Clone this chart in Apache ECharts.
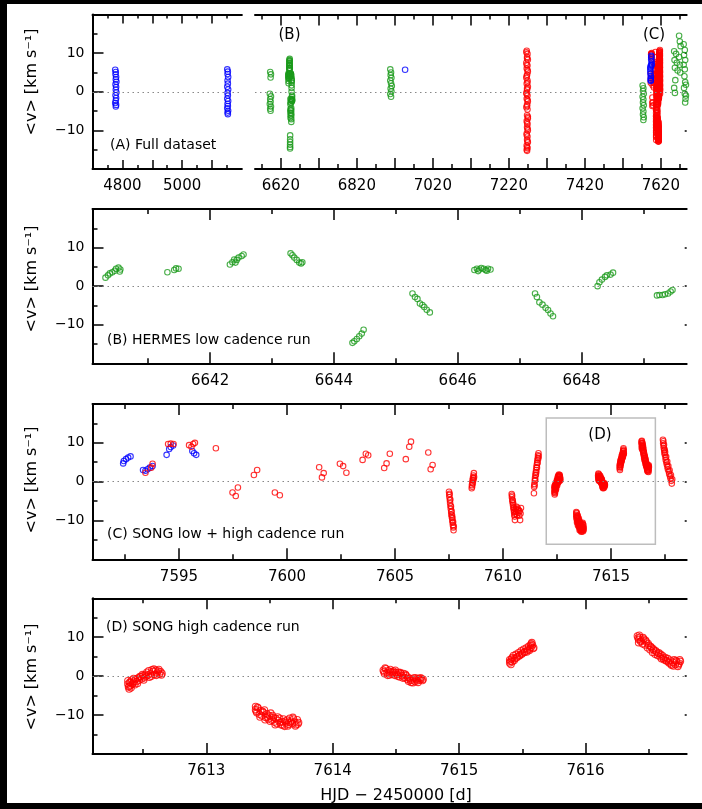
<!DOCTYPE html>
<html><head><meta charset="utf-8">
<script src="https://cdn.jsdelivr.net/npm/echarts@6/dist/echarts.min.js"></script>
<style>html,body{margin:0;padding:0;background:#fff;overflow:hidden;}#c{width:702px;height:809px;}</style>
</head><body><div id="c"></div>
<script>
// ---------------- tick / label values ----------------
const a1Major = [4800, 4900, 5000, 5100];
const a1Minor = [4750, 4850, 4950, 5050, 5150];
const a1Labels = [4800, 5000];
const a2Major = [6620, 6720, 6820, 6920, 7020, 7120, 7220, 7320, 7420, 7520, 7620];
const a2Minor = [6570, 6670, 6770, 6870, 6970, 7070, 7170, 7270, 7370, 7470, 7570, 7670];
const a2Labels = [6620, 6820, 7020, 7220, 7420, 7620];
const bMajor = [6642, 6644, 6646, 6648];
const bMinor = [6641, 6643, 6645, 6647, 6649];
const cMajor = [7595, 7600, 7605, 7610, 7615];
const cMinor = [7592.5, 7597.5, 7602.5, 7607.5, 7612.5, 7617.5];
const dMajor = [7613, 7614, 7615, 7616];
const dMinor = [7612.5, 7613.5, 7614.5, 7615.5, 7616.5];
const yLabels = [-10, 0, 10];
const boxD = [[7612.0, 16.4], [7617.05, -16.1]];

// ---------------- data (HJD-2450000, <v> km/s) ----------------
const blueA_4780 = [[4776,5.7],[4778,5.1],[4777,4.5],[4779,3.8],[4778,3.2],[4780,2.6],[4777,1.9],[4779,1.2],[4778,0.5],[4780,-0.2],[4777,-0.9],[4779,-1.6],[4778,-2.3],[4776,-2.9],[4779,-3.4],[4778,-3.8]];
const blueA_5150 = [[5151,5.8],[5153,5.2],[5152,4.6],[5154,3.8],[5152,2.9],[5153,2.1],[5151,1.3],[5154,0.6],[5152,-0.3],[5153,-1.0],[5151,-1.8],[5154,-2.4],[5152,-3.1],[5153,-3.7],[5151,-4.3],[5154,-4.9],[5152,-5.4],[5153,-5.8]];
const greenA_6593 = [[6592,5.1],[6594,4.5],[6593,3.7],[6591,-0.5],[6594,-1.2],[6592,-1.9],[6593,-2.6],[6591,-3.2],[6594,-3.8],[6592,-4.4],[6593,-4.9]];
const greenA_6910 = [[6908,5.8],[6910,5.0],[6909,4.3],[6911,3.6],[6908,2.9],[6910,2.2],[6912,1.5],[6909,0.8],[6911,0.1],[6908,-0.6],[6910,-1.3]];
const blueA_6947 = [[6947,5.7]];
const redA_7269 = [[7267,10.6],[7266,10.2],[7269,9.8],[7268,9.0],[7268,8.6],[7270,8.3],[7266,7.5],[7267,7.0],[7269,6.8],[7267,6.0],[7269,5.6],[7270,5.2],[7268,4.4],[7267,4.0],[7266,3.6],[7269,2.9],[7269,2.4],[7267,2.1],[7270,1.3],[7268,0.9],[7268,0.5],[7266,-0.3],[7267,-0.6],[7269,-1.0],[7267,-1.8],[7269,-2.1],[7270,-2.5],[7268,-3.3],[7268,-3.7],[7266,-4.0],[7269,-4.6],[7268,-6.1],[7270,-6.5],[7270,-6.9],[7267,-7.6],[7268,-8.0],[7269,-8.4],[7268,-9.2],[7269,-9.6],[7270,-10.0],[7267,-10.8],[7267,-11.2],[7269,-11.6],[7268,-12.4],[7269,-12.8],[7270,-13.1],[7267,-13.9],[7268,-14.3],[7269,-14.6],[7267,-15.0],[7268,-15.3]];
const greenA_7573 = [[7572,1.6],[7574,0.9],[7573,0.2],[7575,-0.5],[7572,-1.3],[7574,-2.0],[7573,-2.8],[7575,-3.5],[7572,-4.3],[7574,-5.1],[7573,-5.9],[7575,-6.6],[7574,-7.3]];
const greenA_7670 = [[7668,14.5],[7670,13.0],[7672,11.8],[7655,10.5],[7660,9.8],[7668,9.0],[7656,8.2],[7662,7.5],[7670,7.0],[7657,6.2],[7664,5.5],[7671,5.0],[7658,3.0],[7655,1.0],[7657,-0.3],[7680,12.3],[7683,10.8],[7681,9.5],[7684,8.2],[7680,7.0],[7683,5.8],[7682,4.0],[7684,2.5],[7681,1.0],[7683,-0.5],[7685,-1.8],[7684,-2.8],[7686,1.8],[7686,-1.0]];

const hermesB = [
 [6640.31,2.2],[6640.35,2.8],[6640.38,3.3],[6640.42,3.6],[6640.46,4.0],[6640.48,4.5],[6640.52,4.8],[6640.55,4.3],[6640.54,3.8],
 [6641.31,3.6],[6641.42,4.2],[6641.45,4.6],[6641.49,4.5],
 [6642.32,5.6],[6642.36,6.2],[6642.39,6.9],[6642.41,6.1],[6642.43,6.8],[6642.46,7.4],[6642.51,7.8],[6642.54,8.2],
 [6643.30,8.5],[6643.33,8.0],[6643.36,7.4],[6643.40,6.8],[6643.44,6.1],[6643.47,5.9],[6643.49,6.2],
 [6644.30,-14.7],[6644.33,-14.3],[6644.37,-13.7],[6644.41,-13.0],[6644.45,-12.3],[6644.48,-11.3],
 [6645.27,-1.9],[6645.31,-2.8],[6645.35,-3.3],[6645.39,-4.5],[6645.43,-4.9],[6645.46,-5.4],[6645.50,-6.1],[6645.55,-6.8],
 [6646.27,4.2],[6646.31,4.5],[6646.33,3.9],[6646.35,4.3],[6646.38,4.7],[6646.42,4.5],[6646.45,4.2],[6646.47,4.0],[6646.49,4.5],[6646.53,4.3],
 [6647.25,-1.9],[6647.28,-2.8],[6647.32,-4.2],[6647.37,-4.8],[6647.42,-5.6],[6647.46,-6.2],[6647.50,-7.1],[6647.54,-7.8],
 [6648.26,0.0],[6648.29,1.0],[6648.33,1.7],[6648.38,2.4],[6648.41,2.8],[6648.47,3.0],[6648.51,3.5],
 [6649.22,-2.4],[6649.26,-2.3],[6649.31,-2.3],[6649.35,-2.1],[6649.40,-1.9],[6649.44,-1.4],[6649.47,-1.0]
];

const songLowBlue = [[7592.42,4.7],[7592.45,5.3],[7592.55,5.8],[7592.65,6.2],[7592.76,6.5],[7593.34,3.0],[7593.45,2.8],[7593.55,3.2],[7593.65,3.6],[7593.78,4.05],[7594.43,6.9],[7594.55,8.4],[7594.62,8.9],[7594.73,9.3],[7595.62,7.9],[7595.70,7.3],[7595.80,6.9]];
const songLowRed = [[7593.45,2.3],[7593.72,3.6],[7593.78,4.6],[7594.50,9.7],[7594.62,9.8],[7594.75,9.7],[7595.47,9.4],[7595.58,9.0],[7595.66,9.7],[7595.74,10.0],[7596.71,8.6],[7597.48,-2.8],[7597.63,-3.7],[7597.73,-1.5],[7598.47,1.7],[7598.62,3.0],[7599.44,-2.8],[7599.67,-3.5],[7601.49,3.7],[7601.62,1.1],[7601.70,2.2],[7602.45,4.6],[7602.60,4.0],[7602.75,2.3],[7603.50,5.6],[7603.65,7.2],[7603.76,6.8],[7604.50,3.5],[7604.61,4.7],[7604.76,7.2],[7605.50,5.8],[7605.66,9.0],[7605.74,10.3],[7606.54,7.5],[7606.65,3.2],[7606.74,4.3]];
const songC_7607 = [[7607.50,-2.6],[7607.51,-3.4],[7607.52,-4.0],[7607.53,-3.1],[7607.54,-4.8],[7607.55,-5.5],[7607.56,-4.6],[7607.57,-6.2],[7607.58,-7.0],[7607.59,-6.4],[7607.60,-7.8],[7607.61,-8.5],[7607.62,-7.6],[7607.63,-9.2],[7607.64,-8.7],[7607.65,-10.0],[7607.66,-9.4],[7607.67,-10.6],[7607.68,-11.2],[7607.69,-10.4],[7607.70,-11.8],[7607.71,-12.5],[7607.72,-11.5]];
const songC_7608 = [[7608.55,-1.7],[7608.56,-0.9],[7608.57,-1.3],[7608.58,-0.2],[7608.59,0.4],[7608.60,-0.5],[7608.61,1.0],[7608.62,0.3],[7608.63,1.6],[7608.64,0.8],[7608.65,2.2],[7608.66,1.2]];
const songC_7610 = [[7610.40,-3.2],[7610.41,-4.0],[7610.42,-3.6],[7610.43,-4.7],[7610.44,-5.3],[7610.45,-4.9],[7610.46,-6.0],[7610.47,-5.6],[7610.48,-6.6],[7610.49,-7.2],[7610.50,-6.8],[7610.51,-7.9],[7610.52,-8.5],[7610.53,-7.6],[7610.54,-9.0],[7610.55,-9.9],[7610.57,-8.3],[7610.59,-7.0],[7610.61,-7.8],[7610.63,-6.5],[7610.65,-8.6],[7610.67,-7.3],[7610.69,-6.9],[7610.71,-8.0],[7610.73,-7.4],[7610.75,-8.8],[7610.77,-7.6],[7610.79,-9.9],[7610.81,-8.2],[7610.83,-6.8]];
const songC_7611 = [[7611.43,-3.0],[7611.44,-1.4],[7611.45,-0.6],[7611.46,-1.0],[7611.47,0.2],[7611.48,0.9],[7611.49,0.4],[7611.50,1.6],[7611.51,2.3],[7611.52,1.8],[7611.53,3.0],[7611.54,2.5],[7611.55,3.7],[7611.56,4.3],[7611.57,3.6],[7611.58,4.9],[7611.59,5.5],[7611.60,4.8],[7611.61,6.1],[7611.62,6.8],[7611.63,5.9],[7611.64,7.3],[7611.65,6.5]];
const songC_7617 = [[7617.40,10.8],[7617.41,9.9],[7617.42,10.4],[7617.43,9.2],[7617.44,8.6],[7617.45,9.5],[7617.46,8.0],[7617.47,7.4],[7617.48,8.3],[7617.49,6.9],[7617.50,7.6],[7617.52,6.2],[7617.53,5.6],[7617.55,6.4],[7617.56,5.0],[7617.58,4.4],[7617.60,5.2],[7617.61,3.8],[7617.63,3.2],[7617.65,4.0],[7617.67,2.6],[7617.69,2.0],[7617.71,2.9],[7617.73,1.4],[7617.75,0.8],[7617.77,1.7],[7617.79,0.2],[7617.81,-0.5],[7617.83,0.6]];

const songD_1 = [[7612.38,-1.2],[7612.38,-2.0],[7612.385,-2.8],[7612.39,-2.6],[7612.39,-3.3],[7612.395,-1.5],[7612.40,-1.6],[7612.40,-2.4],[7612.405,-3.0],[7612.41,-1.0],[7612.415,-2.1],[7612.42,-1.8],[7612.425,-0.6],[7612.43,-1.3],[7612.435,-2.2],[7612.44,-0.8],[7612.45,-1.4],[7612.455,-1.9],[7612.46,-0.5],[7612.47,-1.0],[7612.475,-0.1],[7612.48,-0.2],[7612.49,-0.7],[7612.495,0.4],[7612.50,0.1],[7612.505,-1.0],[7612.51,-0.4],[7612.52,0.5],[7612.525,0.0],[7612.53,1.0],[7612.54,0.3],[7612.545,1.4],[7612.55,-0.3],[7612.56,0.6],[7612.565,0.0],[7612.57,1.6],[7612.58,1.2],[7612.585,1.8],[7612.59,0.4],[7612.60,1.5],[7612.605,0.2],[7612.61,0.8],[7612.62,1.3],[7612.625,1.7],[7612.63,0.5],[7612.64,1.1],[7612.645,0.3],[7612.65,0.7]];
const songD_2 = [[7613.39,-7.8],[7613.39,-8.6],[7613.395,-9.0],[7613.40,-9.4],[7613.405,-8.0],[7613.41,-8.2],[7613.42,-9.8],[7613.425,-10.5],[7613.43,-8.9],[7613.44,-10.2],[7613.445,-9.0],[7613.45,-9.3],[7613.46,-8.7],[7613.465,-11.2],[7613.47,-10.6],[7613.48,-9.7],[7613.485,-10.5],[7613.49,-11.0],[7613.50,-10.2],[7613.505,-11.6],[7613.51,-9.5],[7613.52,-11.3],[7613.525,-10.1],[7613.53,-10.6],[7613.54,-11.8],[7613.545,-12.5],[7613.55,-10.9],[7613.56,-12.2],[7613.565,-10.5],[7613.57,-11.4],[7613.58,-10.8],[7613.585,-11.9],[7613.59,-12.5],[7613.60,-11.7],[7613.605,-12.6],[7613.61,-11.0],[7613.62,-12.9],[7613.625,-11.6],[7613.63,-12.0],[7613.64,-11.3],[7613.645,-12.8],[7613.65,-12.4],[7613.66,-10.8],[7613.665,-11.9],[7613.67,-11.6],[7613.68,-12.2],[7613.685,-10.6],[7613.69,-11.0],[7613.70,-11.8],[7613.705,-12.8],[7613.71,-12.5],[7613.72,-11.2],[7613.725,-12.3],[7613.73,-11.9]];
const songD_3 = [[7614.40,1.5],[7614.405,1.1],[7614.41,0.6],[7614.415,2.1],[7614.42,1.9],[7614.43,0.9],[7614.435,0.2],[7614.44,1.4],[7614.45,0.3],[7614.455,1.7],[7614.46,1.1],[7614.47,0.5],[7614.475,0.9],[7614.48,1.3],[7614.49,0.2],[7614.495,1.5],[7614.50,0.9],[7614.51,0.4],[7614.515,0.0],[7614.52,1.0],[7614.53,-0.2],[7614.535,0.9],[7614.54,0.6],[7614.55,0.1],[7614.555,-0.5],[7614.56,0.7],[7614.57,-0.4],[7614.575,0.5],[7614.58,0.2],[7614.59,-0.8],[7614.595,-0.3],[7614.60,-1.3],[7614.61,-0.6],[7614.615,-1.1],[7614.62,-1.6],[7614.63,-1.0],[7614.635,-1.7],[7614.64,-0.5],[7614.65,-1.4],[7614.655,-0.4],[7614.66,-0.8],[7614.67,-1.2],[7614.675,-1.6],[7614.68,-0.6],[7614.69,-1.0],[7614.695,-0.4],[7614.70,-0.7],[7614.71,-1.1],[7614.715,-0.8]];
const songD_4 = [[7615.40,3.4],[7615.40,4.2],[7615.405,3.8],[7615.41,3.0],[7615.415,4.4],[7615.42,4.8],[7615.42,3.7],[7615.43,5.3],[7615.435,4.0],[7615.44,4.5],[7615.45,5.6],[7615.455,4.7],[7615.46,5.0],[7615.47,6.0],[7615.475,5.2],[7615.48,5.4],[7615.49,6.5],[7615.495,5.6],[7615.50,5.9],[7615.51,6.9],[7615.515,6.1],[7615.52,6.3],[7615.53,7.2],[7615.535,6.2],[7615.54,6.7],[7615.55,7.7],[7615.555,6.6],[7615.56,7.0],[7615.565,7.9],[7615.57,8.3],[7615.57,7.4],[7615.575,8.6],[7615.58,8.0],[7615.585,7.1],[7615.59,7.3]];
const songD_5 = [[7616.41,10.3],[7616.415,9.8],[7616.42,9.4],[7616.42,8.6],[7616.425,10.5],[7616.43,10.0],[7616.435,8.9],[7616.44,9.1],[7616.45,8.3],[7616.455,9.9],[7616.46,9.5],[7616.47,8.0],[7616.475,9.2],[7616.48,8.8],[7616.49,7.3],[7616.495,8.4],[7616.50,7.9],[7616.51,6.8],[7616.515,7.6],[7616.52,7.4],[7616.53,6.1],[7616.535,7.0],[7616.54,6.7],[7616.55,5.6],[7616.555,6.5],[7616.56,6.2],[7616.57,5.3],[7616.575,5.8],[7616.58,6.0],[7616.59,5.0],[7616.595,5.6],[7616.60,4.5],[7616.61,5.2],[7616.615,4.6],[7616.62,4.2],[7616.63,4.8],[7616.635,4.1],[7616.64,3.9],[7616.65,4.5],[7616.655,3.7],[7616.66,3.4],[7616.67,4.1],[7616.675,3.1],[7616.68,2.8],[7616.69,3.6],[7616.695,2.6],[7616.70,4.2],[7616.71,3.0],[7616.715,4.0],[7616.72,3.7],[7616.73,2.5],[7616.735,2.9],[7616.74,3.3],[7616.745,4.2],[7616.75,3.8]];

// ---------------- build ----------------
const FONT = '"DejaVu Sans", Verdana, sans-serif';
const RED = '#ff0000', BLUE = '#0000ff', GREEN = '#1a9a1a';
const lineSt = {color:'#000', width:2};
const tickSt = {color:'#000', width:1.5};
const grids = [], xAxes = [], yAxes = [], series = [];

function fmtY(v){ if (!yLabels.includes(v)) return ''; return v < 0 ? '\u2212' + (-v) : String(v); }

function addPanel(p){
  const gi = grids.length;
  grids.push({left:p.left, top:p.top, width:p.width, height:p.height, containLabel:false});
  const xi = xAxes.length;
  const base = {type:'value', gridIndex:gi, min:p.xmin, max:p.xmax, splitLine:{show:false}};
  const majTick = {show:true, inside:true, length:p.majLen, customValues:p.major, lineStyle:tickSt};
  const minTick = {show:true, inside:true, length:p.minLen, customValues:p.minor, lineStyle:tickSt};
  xAxes.push(Object.assign({}, base, {position:'bottom', axisLine:{show:true, onZero:false, lineStyle:lineSt},
    axisTick:majTick, axisLabel:{show:true, customValues:p.labels, fontSize:15, color:'#000', fontFamily:FONT, margin:10, formatter:v=>String(v)}}));
  xAxes.push(Object.assign({}, base, {position:'bottom', axisLine:{show:false, onZero:false}, axisTick:minTick, axisLabel:{show:false}}));
  xAxes.push(Object.assign({}, base, {position:'top', axisLine:{show:true, onZero:false, lineStyle:lineSt}, axisTick:majTick, axisLabel:{show:false}}));
  xAxes.push(Object.assign({}, base, {position:'top', axisLine:{show:false, onZero:false}, axisTick:minTick, axisLabel:{show:false}}));
  const yi = yAxes.length;
  yAxes.push({type:'value', gridIndex:gi, min:-20, max:20, interval:10, position:'left',
    axisLine:{show:p.leftAxis, onZero:false, lineStyle:lineSt},
    axisTick:{show:p.leftAxis, inside:true, length:11, lineStyle:tickSt},
    minorTick:{show:p.leftAxis, splitNumber:2, length:5, lineStyle:tickSt},
    axisLabel:{show:p.leftAxis, fontSize:14, color:'#000', fontFamily:FONT, margin:8, formatter:fmtY},
    splitLine:{show:false}, minorSplitLine:{show:false}});
  yAxes.push({type:'value', gridIndex:gi, min:-20, max:20, interval:10, position:'right',
    axisLine:{show:false, onZero:false}, axisTick:{show:p.rightTicks, inside:true, length:2, lineStyle:tickSt},
    axisLabel:{show:false}, splitLine:{show:false}});
  return {xi:xi, yi:yi, sym:p.sym};
}

function sc(data, color, ax, extra){
  series.push(Object.assign({type:'scatter', xAxisIndex:ax.xi, yAxisIndex:ax.yi, data:data, symbol:'circle', symbolSize:ax.sym,
    itemStyle:{color:'rgba(0,0,0,0)', borderColor:color, borderWidth:1.1}, silent:true, animation:false}, extra||{}));
}
const zeroLine = {markLine:{silent:true, symbol:['none','none'], label:{show:false},
  lineStyle:{type:[1.5,3.5], color:'#888', width:1.2}, data:[{yAxis:0}], animation:false}};

const L = 92.5, W = 594.2;
const pA1 = addPanel({left:L, top:14.5, width:149.4, height:154.5, xmin:4700, xmax:5200, major:a1Major, minor:a1Minor, labels:a1Labels, majLen:9, minLen:4, leftAxis:true, rightTicks:false, sym:5.5});
const pA2 = addPanel({left:255, top:14.5, width:431.7, height:154.5, xmin:6552, xmax:7688, major:a2Major, minor:a2Minor, labels:a2Labels, majLen:11, minLen:5, leftAxis:false, rightTicks:true, sym:5.5});
const pB = addPanel({left:L, top:209, width:W, height:154.3, xmin:6640.1, xmax:6649.7, major:bMajor, minor:bMinor, labels:bMajor, majLen:11, minLen:5, leftAxis:true, rightTicks:true, sym:5.5});
const pC = addPanel({left:L, top:404, width:W, height:155.3, xmin:7591, xmax:7618.5, major:cMajor, minor:cMinor, labels:cMajor, majLen:11, minLen:5, leftAxis:true, rightTicks:true, sym:5.5});
const pD = addPanel({left:L, top:598.3, width:W, height:155.7, xmin:7612.1, xmax:7616.8, major:dMajor, minor:dMinor, labels:dMajor, majLen:11, minLen:5, leftAxis:true, rightTicks:true, sym:6.5});

// Panel A
sc(blueA_4780, BLUE, pA1, zeroLine);
sc(blueA_5150, BLUE, pA1);
sc(greenA_6593, GREEN, pA2, zeroLine);
sc(hermesB, GREEN, pA2);
sc(greenA_6910, GREEN, pA2);
sc(blueA_6947, BLUE, pA2);
sc(redA_7269, RED, pA2);
sc(greenA_7573, GREEN, pA2);
[songLowRed, songC_7607, songC_7608, songC_7610, songC_7611, songC_7617, songD_1, songD_2, songD_3, songD_4, songD_5].forEach(d => sc(d, RED, pA2));
sc(songLowBlue, BLUE, pA2);
sc(greenA_7670, GREEN, pA2);
// Panel B
sc(hermesB, GREEN, pB, zeroLine);
// Panel C
sc(songLowBlue, BLUE, pC, zeroLine);
sc(songLowRed, RED, pC, {markArea:{silent:true, itemStyle:{color:'rgba(0,0,0,0)', borderColor:'#bdbdbd', borderWidth:1.5},
  data:[[{coord:boxD[0]},{coord:boxD[1]}]], animation:false}});
[songC_7607, songC_7608, songC_7610, songC_7611, songC_7617, songD_1, songD_2, songD_3, songD_4, songD_5].forEach(d => sc(d, RED, pC));
// Panel D
sc(songD_1, RED, pD, zeroLine);
[songD_2, songD_3, songD_4, songD_5].forEach(d => sc(d, RED, pD));

function txt(x, y, s, size, align, rot){
  return {type:'text', x:x, y:y, rotation:rot||0, silent:true, z:100,
    style:{text:s, x:0, y:0, fill:'#000', font:size + 'px ' + FONT, align:align||'left', verticalAlign:'middle'}};
}
const yName = '<v> [km s\u207B\u00B9]';
const graphics = [
  {type:'rect', shape:{x:0, y:0, width:7, height:809}, style:{fill:'#000'}, silent:true, z:200},
  {type:'rect', shape:{x:0, y:0, width:702, height:4}, style:{fill:'#000'}, silent:true, z:200},
  {type:'rect', shape:{x:0, y:803, width:702, height:6}, style:{fill:'#000'}, silent:true, z:200},
  txt(110, 145.5, '(A) Full dataset', 14),
  txt(289.5, 35, '(B)', 15, 'center'),
  txt(654, 35, '(C)', 15, 'center'),
  txt(107, 340, '(B) HERMES low cadence run', 14),
  txt(107, 534, '(C) SONG low + high cadence run', 14),
  txt(600, 435.5, '(D)', 15, 'center'),
  txt(106, 627.5, '(D) SONG high cadence run', 14),
  txt(396, 795.5, 'HJD \u2212 2450000 [d]', 16, 'center'),
  txt(32, 82, yName, 16, 'center', Math.PI/2),
  txt(32, 279, yName, 16, 'center', Math.PI/2),
  txt(32, 480, yName, 16, 'center', Math.PI/2),
  txt(32, 677, yName, 16, 'center', Math.PI/2)
];

const chart = echarts.init(document.getElementById('c'));
chart.setOption({
  backgroundColor:'#fff', animation:false,
  grid:grids, xAxis:xAxes, yAxis:yAxes, series:series, graphic:graphics
});
</script></body></html>
